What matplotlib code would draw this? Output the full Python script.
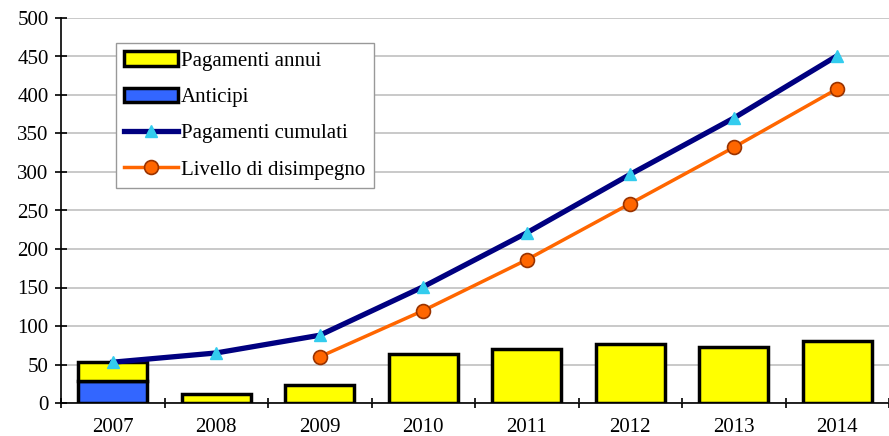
import numpy as np
import matplotlib.pyplot as plt

plt.rcParams['font.family'] = ['Liberation Serif', 'DejaVu Serif']

anni = ['2007', '2008', '2009', '2010', '2011', '2012', '2013', '2014']
anticipi = [28, 0, 0, 0, 0, 0, 0, 0]
pagamenti_annui = [25, 12, 23, 63, 70, 77, 73, 80]
pagamenti_cumulati = [53, 65, 88, 151, 221, 297, 370, 451]
anni_disimpegno = ['2009', '2010', '2011', '2012', '2013', '2014']
livello_disimpegno = [60, 120, 186, 259, 332, 408]

x = np.arange(len(anni))
xd = np.array([anni.index(a) for a in anni_disimpegno])

fig = plt.figure(figsize=(8.89, 4.36), dpi=100)
ax = fig.add_axes([61/889, 33/436, 828/889, 385/436])

b1 = ax.bar(x, anticipi, width=0.67, color='#3366ff', edgecolor='black', linewidth=2.5,
            label='Anticipi', zorder=2)
b2 = ax.bar(x, pagamenti_annui, width=0.67, bottom=anticipi, color='#ffff00',
            edgecolor='black', linewidth=2.5, label='Pagamenti annui', zorder=2)
l1, = ax.plot(x, pagamenti_cumulati, color='#000080', lw=3.8, marker='^', ms=9,
              mfc='#33ccee', mec='#33ccee', label='Pagamenti cumulati', zorder=3)
l2, = ax.plot(xd, livello_disimpegno, color='#ff6600', lw=2.5, marker='o', ms=10,
              mfc='#ff6600', mec='#993300', mew=1.2, label='Livello di disimpegno', zorder=3)

ax.set_xlim(-0.5, len(anni) - 0.5)
ax.set_ylim(0, 500)
ax.set_yticks(range(0, 501, 50))
ax.set_xticks(x)
ax.set_xticklabels(anni)
ax.set_xticks(np.arange(-0.5, len(anni), 1), minor=True)
ax.tick_params(axis='x', which='major', length=0, labelsize=15, pad=11)
ax.tick_params(axis='x', which='minor', length=7, width=1.2, direction='inout')
ax.tick_params(axis='y', labelsize=15, length=8, width=1.2, direction='inout', pad=5)
ax.grid(axis='y', color='#c0c0c0', lw=1.2, zorder=0)
ax.set_axisbelow(True)
for s in ['top', 'right']:
    ax.spines[s].set_visible(False)
ax.spines['left'].set_linewidth(1.2)
ax.spines['bottom'].set_linewidth(1.2)

ax.legend([b2, b1, l1, l2],
          ['Pagamenti annui', 'Anticipi', 'Pagamenti cumulati', 'Livello di disimpegno'],
          loc='upper left', bbox_to_anchor=(0.066, 0.935), fontsize=15, fancybox=False,
          edgecolor='#999999', framealpha=1, handlelength=2.6, handletextpad=0.15,
          labelspacing=0.8, borderpad=0.4, borderaxespad=0)

fig.savefig('out.png', dpi=100)
